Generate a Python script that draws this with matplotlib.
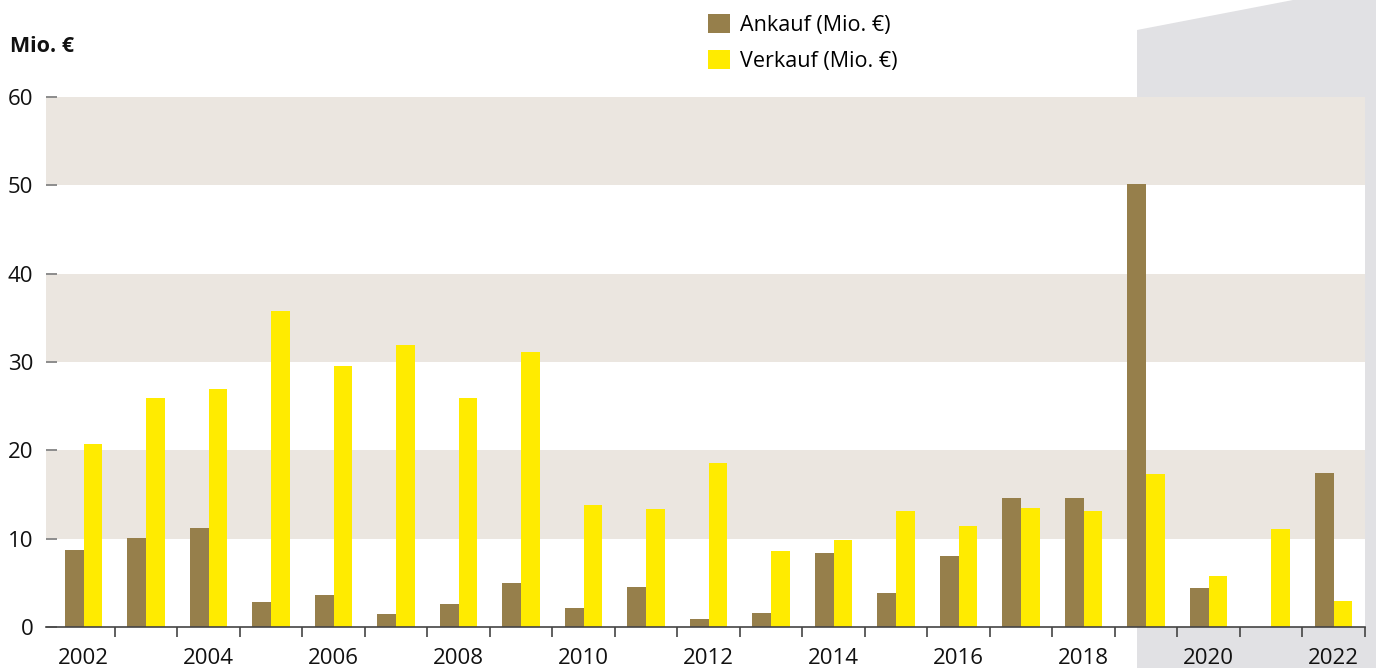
import numpy as np
import matplotlib.pyplot as plt
from matplotlib.patches import Polygon

plt.rcParams['font.family'] = ['Open Sans', 'DejaVu Sans']

# data
years = list(range(2002, 2023))
ankauf = [8.7, 10.1, 11.2, 2.8, 3.6, 1.5, 2.6, 5.0, 2.1, 4.5, 0.9,
          1.6, 8.4, 3.8, 8.0, 14.6, 14.6, 50.2, 4.4, 0.0, 17.4]
verkauf = [20.7, 25.9, 27.0, 35.8, 29.5, 31.9, 25.9, 31.1, 13.8, 13.4, 18.6,
           8.6, 9.8, 13.1, 11.4, 13.5, 13.1, 17.3, 5.8, 11.1, 2.9]
band_ranges = [(10, 20), (30, 40), (50, 60)]
yticks = [0, 10, 20, 30, 40, 50, 60]

C_ANK = '#967f4b'
C_VER = '#ffeb00'
C_BAND = '#ebe6e0'
C_GREY = '#e1e1e4'

W, H = 1376, 668
fig = plt.figure(figsize=(W / 100, H / 100), dpi=100)

# grey background block on the right (figure pixel coords), behind the axes
poly = Polygon([(1137 / W, 0), (1137 / W, 1 - 30 / H), (1293 / W, 1),
                (1, 1), (1, 0)], closed=True, transform=fig.transFigure,
               facecolor=C_GREY, edgecolor='none', zorder=-10)
fig.patches.append(poly)

ax = fig.add_axes([46 / W, (H - 627) / H, (1365 - 46) / W, (627 - 97) / H])
ax.set_facecolor('white')

x = np.arange(len(years))
bw = 0.3
for lo, hi in band_ranges:
    ax.axhspan(lo, hi, color=C_BAND, lw=0, zorder=0)

b1 = ax.bar(x - bw / 2, ankauf, width=bw, color=C_ANK, zorder=2, label='Ankauf (Mio. €)')
b2 = ax.bar(x + bw / 2, verkauf, width=bw, color=C_VER, zorder=2, label='Verkauf (Mio. €)')

ax.set_xlim(-0.6, len(years) - 0.5)
ax.set_ylim(0, 60)

for s in ['top', 'right', 'left']:
    ax.spines[s].set_visible(False)
ax.spines['bottom'].set_color('#444444')
ax.spines['bottom'].set_linewidth(1.2)

ax.set_yticks(yticks)
ax.tick_params(axis='y', direction='in', length=8, width=1.4, color='#8c8c8c',
               labelsize=16, labelcolor='#111111', pad=9)

# ticks at the group boundaries, labels at even years
ax.set_xticks(x + 0.5)
ax.set_xticklabels([])
ax.tick_params(axis='x', which='major', direction='out', length=7, width=1.2, color='#444444')
ax.set_xticks(x[::2], minor=True)
ax.set_xticklabels([str(y) for y in years[::2]], minor=True)
ax.tick_params(axis='x', which='minor', length=0, labelsize=16, labelcolor='#111111', pad=15)

fig.text(10 / W, 1 - 47 / H, 'Mio. €', fontsize=15.5, fontweight='bold',
         color='#111111', va='center', ha='left')

fig.legend(handles=[b1, b2], loc='upper left', bbox_to_anchor=(708 / W, 1 - 14 / H),
           frameon=False, fontsize=15.5, handlelength=1.0, handleheight=1.0,
           handletextpad=0.5, labelspacing=0.63, borderpad=0, borderaxespad=0)

fig.savefig('out.png', dpi=100)
